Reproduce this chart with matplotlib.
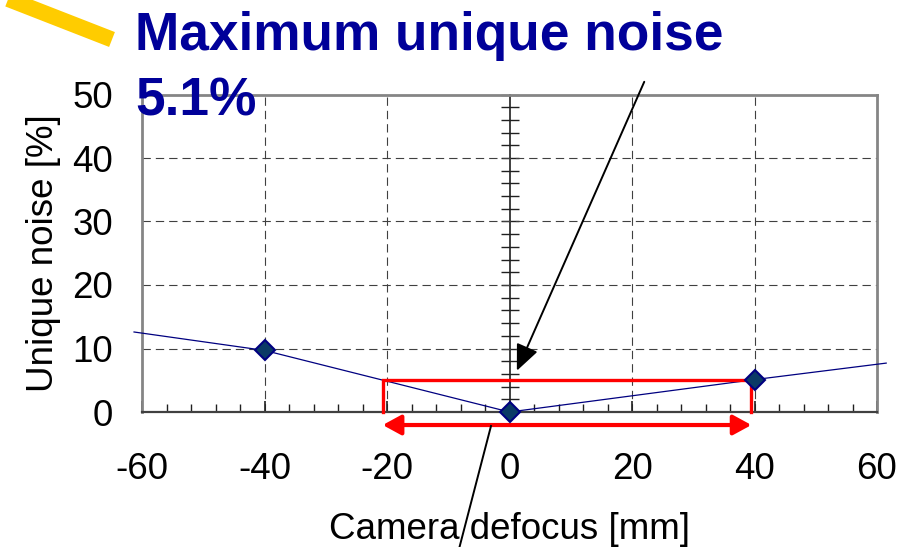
import matplotlib
matplotlib.use("Agg")
import matplotlib.pyplot as plt
import numpy as np
from matplotlib.lines import Line2D

plt.rcParams['font.family'] = ['Liberation Sans', 'DejaVu Sans']

# Data
defocus = [-40, 0, 40]
noise = [9.7, 0.0, 5.1]
curve_x = [-61.3, -40, 0, 40, 61.5]
curve_y = [12.6, 9.7, 0.0, 5.1, 7.7]
band_left = -20.7
band_right = 39.5
max_noise = 5.1
xticks = [-60, -40, -20, 0, 20, 40, 60]
yticks = [0, 10, 20, 30, 40, 50]

W, H = 915, 547
fig = plt.figure(figsize=(W / 100, H / 100), dpi=100)
ax = fig.add_axes([142 / W, (H - 412) / H, 735 / W, (412 - 94.5) / H])
ax.set_xlim(-60, 60)
ax.set_ylim(0, 50)

# border
for s in ['left', 'top', 'right']:
    ax.spines[s].set_color('#858585')
    ax.spines[s].set_linewidth(2.0)
ax.spines['bottom'].set_color('#404040')
ax.spines['bottom'].set_linewidth(1.6)

ax.set_xticks(xticks)
ax.set_yticks(yticks)
ax.set_xticks(np.arange(-60, 61, 4), minor=True)
ax.tick_params(axis='x', which='major', direction='in', length=8, width=1.2,
               color='#202020', labelsize=26.5, pad=29)
ax.tick_params(axis='x', which='minor', direction='in', length=5.5, width=1.0,
               color='#202020')
ax.tick_params(axis='y', which='both', length=0, labelsize=26.5, pad=21)
ax.set_xticklabels([str(v) for v in xticks])

# grid
gx = [v for v in xticks if v not in (-60, 0, 60)]
gy = [v for v in yticks if v not in (0, 50)]
for v in gx:
    ax.axvline(v, color='#404040', lw=0.8, dashes=(7.5, 4.5), zorder=1)
for v in gy:
    ax.axhline(v, color='#404040', lw=0.8, dashes=(7.5, 4.5), zorder=1)

# vertical axis at x=0 via twin axes
ax2 = ax.twinx()
ax2.set_ylim(0, 50)
for s in ['left', 'top', 'bottom']:
    ax2.spines[s].set_visible(False)
ax2.spines['right'].set_position(('data', 0))
ax2.spines['right'].set_color('#202020')
ax2.spines['right'].set_linewidth(1.2)
ax2.set_yticks(yticks)
ax2.set_yticks(np.arange(0, 51, 2), minor=True)
ax2.tick_params(axis='y', which='both', direction='inout', length=13, width=1.0,
                color='#202020', labelright=False)
ax2.set_zorder(ax.get_zorder() - 0.5)
ax.patch.set_visible(False)

# labels
ax.set_ylabel('Unique noise [%]', fontsize=26.5, labelpad=8)
ax.set_xlabel('Camera defocus [mm]', fontsize=26.5, labelpad=18)

# curve
ax.plot(curve_x, curve_y, color='#000080', lw=0.9, clip_on=False, zorder=3)
ax.plot(defocus, noise, linestyle='none', marker='D', ms=10.5, mfc='#0a3a66',
        mec='#000080', mew=1.5, clip_on=False, zorder=5)

# red band
ax.plot([band_left, band_left, band_right, band_right],
        [0, max_noise, max_noise, 0], color='#ff0000', lw=2.4,
        solid_joinstyle='miter', zorder=4, clip_on=False)
ax.annotate('', xy=(band_left, -2.05), xytext=(band_right, -2.05),
            xycoords='data', annotation_clip=False,
            arrowprops=dict(arrowstyle='<|-|>,head_length=0.55,head_width=0.3',
                            mutation_scale=20, color='#ff0000', lw=3,
                            shrinkA=0, shrinkB=0))

# black pointer arrow
ax.annotate('', xy=(1.2, 6.5), xytext=(22.0, 52.0), xycoords='data',
            annotation_clip=False,
            arrowprops=dict(arrowstyle='-|>,head_length=0.8,head_width=0.35',
                            mutation_scale=20, color='black', lw=1.4,
                            shrinkA=0, shrinkB=0))
# black line at bottom
fig.add_artist(Line2D([491 / W, 459 / W], [(H - 426) / H, (H - 549) / H],
                      transform=fig.transFigure, color='black', lw=1.4))

# yellow stroke
fig.add_artist(Line2D([-20 / W, 112 / W], [(H + 12) / H, (H - 39.5) / H],
                      transform=fig.transFigure, color='#ffcc00', lw=11.5,
                      solid_capstyle='butt'))

# title text
fig.text(135 / W, (H - 50) / H, 'Maximum unique noise', fontsize=38.3,
         fontweight='bold', color='#000099', va='baseline', ha='left')
fig.text(135 / W, (H - 115) / H, '5.1%', fontsize=38.3,
         fontweight='bold', color='#000099', va='baseline', ha='left', zorder=10)

fig.savefig('out.png', dpi=100)
